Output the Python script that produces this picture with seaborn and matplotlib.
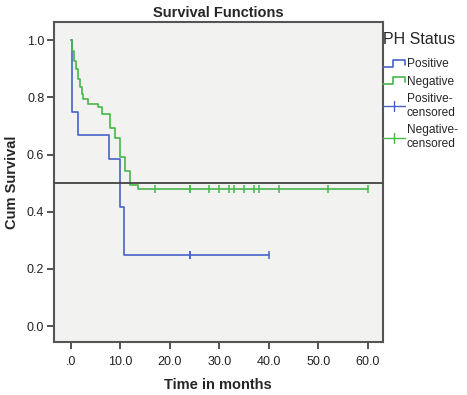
import numpy as np
import pandas as pd
import matplotlib
matplotlib.use("Agg")
import matplotlib.pyplot as plt
import seaborn as sns
from matplotlib.lines import Line2D
from matplotlib.legend_handler import HandlerBase

# ------------------------------------------ données ------------------------------------------
pos_time = [0.0, 0.3, 1.35, 7.8, 10.0, 10.8, 40.0]
pos_surv = [1.0, 0.75, 0.667, 0.583, 0.417, 0.25, 0.25]
pos_cens_time = [24.0, 24.0, 40.0]
pos_cens_surv = [0.25, 0.25, 0.25]

neg_time = [0.0, 0.3, 0.6, 1.0, 1.4, 1.9, 2.2, 2.5, 3.4, 5.4, 6.3, 7.9, 9.0, 10.0, 11.0, 11.9, 13.5, 60.0]
neg_surv = [1.0, 0.963, 0.928, 0.90, 0.864, 0.835, 0.811, 0.794, 0.776, 0.765, 0.741, 0.691, 0.658,
            0.592, 0.542, 0.495, 0.481, 0.481]
neg_cens_time = [17.0, 24.0, 24.0, 28.0, 30.0, 32.0, 33.0, 35.0, 37.0, 38.0, 42.0, 52.0, 60.0]
neg_cens_surv = [0.481] * len(neg_cens_time)

x_ticks = [0, 10, 20, 30, 40, 50, 60]
x_tick_labels = [".0", "10.0", "20.0", "30.0", "40.0", "50.0", "60.0"]
y_ticks = [0.0, 0.2, 0.4, 0.6, 0.8, 1.0]
y_tick_labels = ["0.0", "0.2", "0.4", "0.6", "0.8", "1.0"]

BLUE = "#4862c8"
GREEN = "#46b84a"


class StepHandler(HandlerBase):
    """Symbole en escalier pour la légende (comme SPSS)"""
    def create_artists(self, legend, orig_handle, xdescent, ydescent, width, height, fontsize, trans):
        xs = np.array([0.0, 0.45, 0.45, 1.0, 1.0]) * width - xdescent
        ys = np.array([0.1, 0.1, 0.9, 0.9, 0.35]) * height - ydescent
        line = Line2D(xs, ys, color=orig_handle.get_color(), lw=1.2, transform=trans)
        return [line]


class CensorHandler(HandlerBase):
    """Symbole ligne + croix pour les censures"""
    def create_artists(self, legend, orig_handle, xdescent, ydescent, width, height, fontsize, trans):
        y = 0.5 * height - ydescent
        line = Line2D([-xdescent, width - xdescent], [y, y], color=orig_handle.get_color(), lw=1.0, transform=trans)
        tick = Line2D([0.5 * width - xdescent] * 2, [y - 0.6 * height, y + 0.6 * height],
                      color=orig_handle.get_color(), lw=1.0, transform=trans)
        return [line, tick]


def main():
    sns.set_style("white")
    plt.rcParams["font.family"] = ["Liberation Sans", "DejaVu Sans"]

    fig = plt.figure(figsize=(4.67, 3.95), dpi=100)
    ax = fig.add_axes([0.1156, 0.134, 0.704, 0.810])
    ax.set_facecolor("#f2f2f1")

    df_pos = pd.DataFrame({"time": pos_time, "surv": pos_surv})
    df_neg = pd.DataFrame({"time": neg_time, "surv": neg_surv})

    sns.lineplot(data=df_pos, x="time", y="surv", ax=ax, color=BLUE, lw=1.2,
                 drawstyle="steps-post", estimator=None, sort=False)
    sns.lineplot(data=df_neg, x="time", y="surv", ax=ax, color=GREEN, lw=1.2,
                 drawstyle="steps-post", estimator=None, sort=False)

    sns.scatterplot(x=pos_cens_time, y=pos_cens_surv, ax=ax, marker="|", s=40,
                    color=BLUE, linewidth=1.1, zorder=4)
    sns.scatterplot(x=neg_cens_time, y=neg_cens_surv, ax=ax, marker="|", s=40,
                    color=GREEN, linewidth=1.1, zorder=4)

    # ligne de référence à 0.5
    ax.axhline(0.5, color="#444444", lw=1.3, zorder=3)

    ax.set_xlim(-3.4, 63.0)
    ax.set_ylim(-0.056, 1.063)
    ax.set_xticks(x_ticks)
    ax.set_xticklabels(x_tick_labels)
    ax.set_yticks(y_ticks)
    ax.set_yticklabels(y_tick_labels)
    ax.tick_params(axis="both", which="major", direction="out", length=5, width=1.3,
                   color="#444444", labelsize=9, labelcolor="#222222", pad=2,
                   bottom=True, left=True)
    ax.tick_params(axis="x", pad=5)

    for side in ["left", "right", "top", "bottom"]:
        ax.spines[side].set_color("#555555")
        ax.spines[side].set_linewidth(1.5)

    ax.set_title("Survival Functions", fontsize=10.5, fontweight="bold", pad=4)
    ax.set_xlabel("Time in months", fontsize=10.5, fontweight="bold", labelpad=7)
    ax.set_ylabel("Cum Survival", fontsize=10.5, fontweight="bold", labelpad=6)

    handles = [Line2D([], [], color=BLUE), Line2D([], [], color=GREEN),
               Line2D([0], [0], color=BLUE, marker="|"), Line2D([0], [0], color=GREEN, marker="|")]
    labels = ["Positive", "Negative", "Positive-\ncensored", "Negative-\ncensored"]
    handler_map = {handles[0]: StepHandler(), handles[1]: StepHandler(),
                   handles[2]: CensorHandler(), handles[3]: CensorHandler()}
    leg = ax.legend(handles, labels, handler_map=handler_map, title="PH Status",
                    loc="upper left", bbox_to_anchor=(1.0, 0.968), frameon=False,
                    fontsize=8.6, title_fontsize=11.5, handlelength=1.9, handletextpad=0.1,
                    labelspacing=0.45, borderaxespad=0.0, borderpad=0.0)
    leg._legend_box.align = "left"
    leg._legend_box.sep = 8

    fig.savefig("out.png", dpi=100)


if __name__ == "__main__":
    main()
